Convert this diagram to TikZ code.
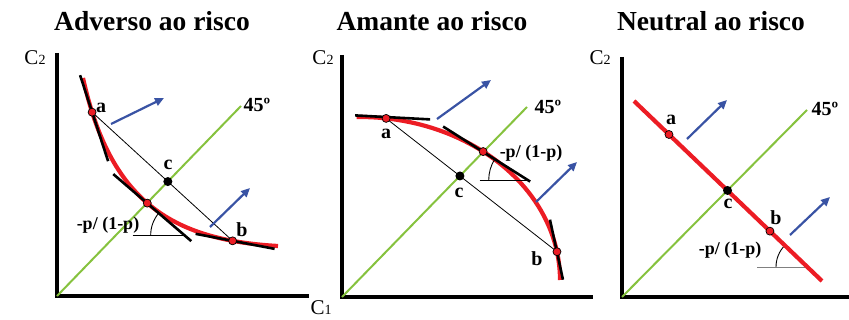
\documentclass[tikz,border=0pt]{standalone}
\usepackage{fontspec}
\setmainfont{Liberation Serif}
\usetikzlibrary{arrows.meta,calc}
\definecolor{rkRed}{HTML}{EC1C24}
\definecolor{rkGreen}{HTML}{86C23E}
\definecolor{rkBlue}{HTML}{3953A4}
\definecolor{rkGray}{HTML}{808080}

\begin{document}
\begin{tikzpicture}[x=1pt,y=-1pt,axis/.style={line width=3.4pt},diag/.style={rkGreen,line width=2pt},util/.style={rkRed,line width=4.2pt},tang/.style={line width=2.6pt},chord/.style={line width=0.8pt},ang/.style={line width=0.9pt},arr/.style={rkBlue,line width=2.2pt,-{Triangle[length=9pt,width=8pt]}},pt/.style={circle,draw=black,fill=rkRed,line width=0.7pt,inner sep=0pt,minimum size=8pt},ptc/.style={circle,fill=black,inner sep=0pt,minimum size=9pt},ttl/.style={font=\fontsize{27.5}{30}\selectfont\bfseries,inner sep=0pt},lbl/.style={font=\fontsize{20}{22}\selectfont\bfseries,inner sep=0pt},slope/.style={font=\fontsize{18}{20}\selectfont\bfseries,inner sep=0pt},axl/.style={font=\fontsize{21}{22}\selectfont,inner sep=0pt}]
    \useasboundingbox (0,0) rectangle (849,320);
    % adverso ao risco
    \node[ttl] (t1) at (152,21) {Adverso ao risco};
    \node[axl] (y1) at (35,58) {C{\fontsize{14}{15}\selectfont 2}};
    \coordinate (o1) at (57,296);
    \coordinate (d1) at (241,106);
    \draw[axis] (57,53) -- (o1) -- (309,296);
    \draw[diag] (o1) -- (d1);
    \draw[util] (83,78) .. controls (110,200) and (170,240) .. (278,246) coordinate[pos=0.1] (a1) coordinate[pos=0.485] (m1) coordinate[pos=0.85] (b1);
    \coordinate (c1) at (intersection of a1--b1 and o1--d1);
    \draw[tang] ($(a1)+(-12,-37)$) -- ($(a1)+(16,49)$);
    \draw[tang] ($(m1)+(-34,-29)$) -- ($(m1)+(44,38)$);
    \draw[tang] ($(b1)+(-37,-7)$) -- ($(b1)+(42,8)$);
    \draw[chord] (a1) -- (b1);
    \coordinate (v1) at ($(m1)+(37.4,32)$);
    \draw[ang] ($(v1)+(-52,0)$) -- (v1);
    \draw[ang] ($(v1)+(-34,0)$) arc[start angle=180,end angle=220.5,radius=34];
    \node[pt] at (a1) {};
    \node[pt] at (m1) {};
    \node[pt] at (b1) {};
    \node[ptc] at (c1) {};
    \node[lbl] (la1) at (101,108) {a};
    \node[lbl] (lc1) at (168,165) {c};
    \node[lbl] (lb1) at (242,230) {b};
    \node[lbl] (g1) at (257,105) {45º};
    \node[slope] (s1) at (108,225) {-p/ (1-p)};
    \draw[arr] (111,124) -- (164,98);
    \draw[arr] (210,227) -- (250,188);
    % amante ao risco
    \node[ttl] (t2) at (432,21) {Amante ao risco};
    \node[axl] (y2) at (323,58) {C{\fontsize{14}{15}\selectfont 2}};
    \node[axl] (x2) at (321,308) {C{\fontsize{14}{15}\selectfont 1}};
    \coordinate (o2) at (342,297);
    \coordinate (d2) at (527,107);
    \coordinate (e2) at (360,280);
    \draw[axis] (342,55) -- (o2) -- (593,297);
    \draw[diag] (o2) -- (d2);
    \draw[util] ($(e2)+(-91:200 and 163)$) arc[start angle=-91,end angle=0,x radius=200,y radius=163];
    \coordinate (a2) at ($(e2)+(-82.5:200 and 163)$);
    \coordinate (m2) at ($(e2)+(-52:200 and 163)$);
    \coordinate (b2) at ($(e2)+(-10:200 and 163)$);
    \coordinate (c2) at (intersection of a2--b2 and o2--d2);
    \draw[tang] ($(a2)+(-31,-3)$) -- ($(a2)+(44,1)$);
    \draw[tang] ($(m2)+(-40,-25)$) -- ($(m2)+(47,30)$);
    \draw[tang] ($(b2)+(-7,-32)$) -- ($(b2)+(6,28)$);
    \draw[chord] (a2) -- (b2);
    \coordinate (v2) at ($(m2)+(44.6,28.4)$);
    \draw[ang] ($(v2)+(-48,0)$) -- (v2);
    \draw[ang] ($(v2)+(-39,0)$) arc[start angle=180,end angle=212.5,radius=39];
    \node[pt] at (a2) {};
    \node[pt] at (m2) {};
    \node[pt] at (b2) {};
    \node[ptc] at (c2) {};
    \node[lbl] (la2) at (386,134) {a};
    \node[lbl] (lc2) at (459,193) {c};
    \node[lbl] (lb2) at (537,259) {b};
    \node[lbl] (g2) at (548,107) {45º};
    \node[slope] (s2) at (531,153) {-p/ (1-p)};
    \draw[arr] (437,119) -- (491,80);
    \draw[arr] (536,202) -- (577,162);
    % neutral ao risco
    \node[ttl] (t3) at (711,21) {Neutral ao risco};
    \node[axl] (y3) at (600,58) {C{\fontsize{14}{15}\selectfont 2}};
    \coordinate (o3) at (622,297);
    \coordinate (d3) at (807,110);
    \coordinate (p3) at (634,101);
    \coordinate (q3) at (822,281);
    \draw[axis] (622,57) -- (o3) -- (849,297);
    \draw[diag] (o3) -- (d3);
    \draw[ang,rkGray] (757,267) -- (805,267);
    \draw[ang] (776,267) arc[start angle=180,end angle=224,radius=31];
    \draw[util] (p3) -- (q3) coordinate[pos=0.186] (a3) coordinate[pos=0.723] (b3);
    \coordinate (c3) at (intersection of p3--q3 and o3--d3);
    \node[pt] at (a3) {};
    \node[pt] at (b3) {};
    \node[ptc] at (c3) {};
    \node[lbl] (la3) at (671,120) {a};
    \node[lbl] (lc3) at (728,204) {c};
    \node[lbl] (lb3) at (776,218) {b};
    \node[lbl] (g3) at (825,109) {45º};
    \node[slope] (s3) at (730,250) {-p/ (1-p)};
    \draw[arr] (687,139) -- (727,100);
    \draw[arr] (790,235) -- (830,197);
  \end{tikzpicture}
\end{document}
